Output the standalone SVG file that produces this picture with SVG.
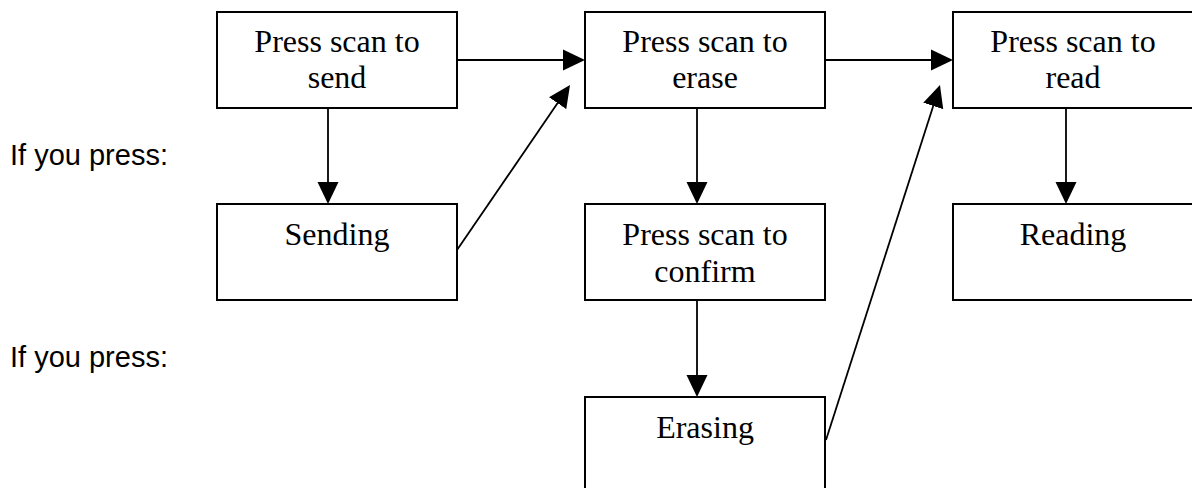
<svg xmlns="http://www.w3.org/2000/svg" width="1192" height="488" viewBox="0 0 1192 488">
<style>
.box{fill:#fff;stroke:#000;stroke-width:2}
.t{font-family:"Liberation Serif","Times New Roman",serif;font-size:32px;fill:#000;text-anchor:middle}
.lbl{font-family:"Liberation Sans",Arial,sans-serif;font-size:29px;fill:#000}
.c{stroke:#000;stroke-width:1.8;fill:none;marker-end:url(#ah)}
</style>
<defs>
<marker id="ah" markerUnits="userSpaceOnUse" markerWidth="22" markerHeight="22" refX="11" refY="11" orient="auto" viewBox="0 0 22 22">
<path d="M0,0.5 L22,11 L0,21.5 z" fill="#000"/>
</marker>
</defs>
<rect width="1192" height="488" fill="#fff"/>
<text class="lbl" x="10" y="165">If you press:</text>
<text class="lbl" x="10" y="367">If you press:</text>
<g id="connectors">
<line class="c" x1="457" y1="60" x2="574" y2="60"/>
<line class="c" x1="825" y1="60" x2="942" y2="60"/>
<line class="c" x1="328" y1="108" x2="328" y2="193"/>
<line class="c" x1="697" y1="108" x2="697" y2="193"/>
<line class="c" x1="697" y1="300" x2="697" y2="386"/>
<line class="c" x1="1066" y1="108" x2="1066" y2="193"/>
<line class="c" x1="457" y1="250" x2="563.8" y2="94.1"/>
<line class="c" x1="826" y1="440" x2="936.6" y2="95.5"/>
</g>
<g id="send">
<rect class="box" x="217" y="12" width="240" height="96"/>
<text class="t" x="337" y="52">Press scan to</text>
<text class="t" x="337" y="88">send</text>
</g>
<g id="erase">
<rect class="box" x="585" y="12" width="240" height="96"/>
<text class="t" x="705" y="52">Press scan to</text>
<text class="t" x="705" y="88">erase</text>
</g>
<g id="read">
<rect class="box" x="953" y="12" width="240" height="96"/>
<text class="t" x="1073" y="52">Press scan to</text>
<text class="t" x="1073" y="88">read</text>
</g>
<g id="sending">
<rect class="box" x="217" y="204" width="240" height="96"/>
<text class="t" x="337" y="245">Sending</text>
</g>
<g id="confirm">
<rect class="box" x="585" y="204" width="240" height="96"/>
<text class="t" x="705" y="245">Press scan to</text>
<text class="t" x="705" y="282">confirm</text>
</g>
<g id="reading">
<rect class="box" x="953" y="204" width="240" height="96"/>
<text class="t" x="1073" y="245">Reading</text>
</g>
<g id="erasing">
<rect class="box" x="585" y="397" width="240" height="96"/>
<text class="t" x="705" y="438">Erasing</text>
</g>
</svg>
